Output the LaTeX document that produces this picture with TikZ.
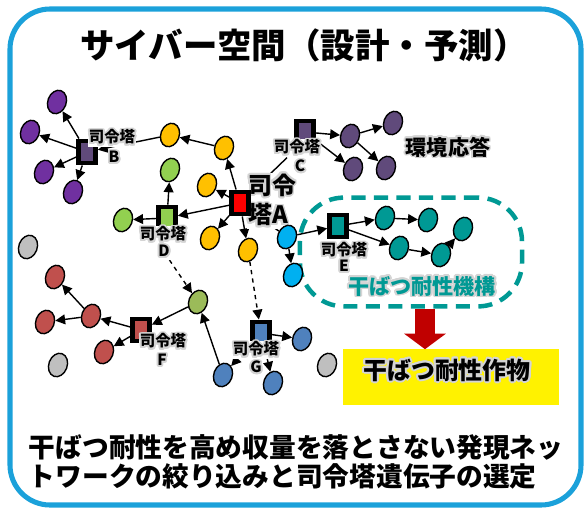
\documentclass[tikz,border=0pt]{standalone}
\usepackage{fontspec}
\usepackage{contour}
\setmainfont{Noto Sans CJK JP}
\usetikzlibrary{shapes.geometric,arrows.meta,calc}

\definecolor{frameblue}{RGB}{27,161,218}
\definecolor{violetB}{RGB}{112,48,160}
\definecolor{violetC}{RGB}{96,74,123}
\definecolor{gold}{RGB}{255,192,0}
\definecolor{lime}{RGB}{146,208,80}
\definecolor{olive}{RGB}{155,187,89}
\definecolor{brick}{RGB}{192,80,77}
\definecolor{steel}{RGB}{79,129,189}
\definecolor{sky}{RGB}{0,176,240}
\definecolor{tealE}{RGB}{0,153,148}
\definecolor{ash}{RGB}{191,191,191}
\definecolor{darkred}{RGB}{192,0,0}
\definecolor{haze}{RGB}{212,212,212}

\contourlength{1.3pt}
\contournumber{20}
\newcommand{\glow}[1]{\contour{haze}{#1}}

\pgfdeclarelayer{back}
\pgfsetlayers{back,main}

\tikzset{
  leaf/.style={ellipse,draw,line width=1pt,minimum width=.46cm,minimum height=.6cm,inner sep=0pt,rotate=-20},
  hub/.style={rectangle,draw,line width=3.5pt,minimum width=.42cm,minimum height=.55cm,inner sep=0pt},
  tag/.style={fill=white,inner sep=.8pt,font=\bfseries\fontsize{11}{13}\selectfont},
  link/.style={draw,line width=1pt,-{Triangle[length=7pt,width=7pt]}},
}

\begin{document}
\begin{tikzpicture}[x=.025cm,y=-.025cm]
  \useasboundingbox (0,0) rectangle (585,513);
  \draw[frameblue,line width=3.6pt,rounded corners=1cm] (10,9) rectangle (581,505);
  \node[font=\bfseries\fontsize{24.5}{28}\selectfont] (title) at (304,45) {サイバー空間（設計・予測）};

  \node[draw=tealE,line width=3.2pt,dash pattern=on 10pt off 6pt,rounded corners=1.1cm,
        minimum width=5.55cm,minimum height=2.72cm] (mech) at (411,252) {};

  \node[tag,align=left,font=\bfseries\fontsize{17}{21}\selectfont] (Al) at (272,201) {\glow{司令}\\\glow{塔A}};

  \begin{scope}[every node/.style={leaf,fill=violetB}]
    \node (p1) at (57,102)  {};
    \node (p2) at (30,132)  {};
    \node (p3) at (44,172)  {};
    \node (p4) at (73,192)  {};
  \end{scope}
  \begin{scope}[every node/.style={leaf,fill=gold}]
    \node (y1) at (170,135) {};
    \node (y2) at (224,148) {};
    \node (y3) at (207,185) {};
    \node (y4) at (210,238) {};
    \node (y5) at (248,250) {};
  \end{scope}
  \begin{scope}[every node/.style={leaf,fill=lime}]
    \node (g1) at (170,170) {};
    \node (g2) at (123,220) {};
    \node[fill=olive] (g3) at (198,302) {};
  \end{scope}
  \begin{scope}[every node/.style={leaf,fill=brick}]
    \node (r1) at (91,316)  {};
    \node (r2) at (55,277)  {};
    \node (r3) at (45,322)  {};
    \node (r4) at (104,352) {};
  \end{scope}
  \begin{scope}[every node/.style={leaf,fill=steel}]
    \node (b1) at (223,375) {};
    \node (b2) at (302,339) {};
    \node (b3) at (273,383) {};
  \end{scope}
  \begin{scope}[every node/.style={leaf,fill=sky}]
    \node (c1) at (287,237) {};
    \node (c2) at (293,275) {};
  \end{scope}
  \begin{scope}[every node/.style={leaf,fill=tealE}]
    \node (t1) at (385,218) {};
    \node (t2) at (428,220) {};
    \node (t3) at (463,229) {};
    \node (t4) at (399,248) {};
    \node (t5) at (441,255) {};
  \end{scope}
  \begin{scope}[every node/.style={leaf,fill=violetC}]
    \node (v1) at (350,136) {};
    \node (v2) at (393,123) {};
    \node (v3) at (353,169) {};
    \node (v4) at (386,168) {};
  \end{scope}
  \begin{scope}[every node/.style={leaf,fill=ash}]
    \node (a1) at (28,247)  {};
    \node (a2) at (58,365)  {};
    \node (a3) at (327,365) {};
  \end{scope}

  \node[hub,fill=red]     (A) at (240,203) {};
  \node[hub,fill=violetC] (B) at (87,152)  {};
  \node[hub,fill=violetC] (C) at (305,132) {};
  \node[hub,fill=lime]    (D) at (167,218) {};
  \node[hub,fill=tealE]   (E) at (338,226) {};
  \node[hub,fill=brick]   (F) at (141,330) {};
  \node[hub,fill=steel]   (G) at (261,333) {};

  \begin{scope}[every node/.style={tag}]
    \node (Bt) at (112,138) {\glow{司令塔}};
    \node (Bn) at (114,158) {\glow{B}};
    \node (Ct) at (297,148) {\glow{司令塔}};
    \node (Cn) at (300,167) {\glow{C}};
    \node (Dt) at (163,235) {\glow{司令塔}};
    \node (Dn) at (164,252) {\glow{D}};
    \node (Et) at (344,251) {\glow{司令塔}};
    \node (En) at (344,267) {\glow{E}};
    \node (Ft) at (163,342) {\glow{司令塔}};
    \node (Fn) at (162,361) {\glow{F}};
    \node (Gt) at (256,350) {\glow{司令塔}};
    \node (Gn) at (256,368) {\glow{G}};
  \end{scope}

  \begin{pgfonlayer}{back}
  \begin{scope}[every edge/.style={link}]
    \path (A)  edge (y2);
    \path (A)  edge (y3);
    \path (A)  edge (y4);
    \path (A)  edge (y5);
    \path (A)  edge (D);
    \path (A)  edge[-] (Ct);
    \path (A)  edge[-] (c1);
    \path (y2) edge (y1);
    \path (y1) edge (B);
    \path (B)  edge (p1);
    \path (B)  edge (p2);
    \path (B)  edge (p3);
    \path (B)  edge (p4);
    \path (D)  edge (g1);
    \path (D)  edge (g2);
    \path (Dn) edge[dashed] (g3);
    \path (y5) edge[dashed] (G);
    \path (g3) edge (F);
    \path (F)  edge (r1);
    \path (r1) edge (r2);
    \path (r1) edge (r3);
    \path (F)  edge (r4);
    \path (b1) edge (g3);
    \path (G)  edge (b1);
    \path (G)  edge (b2);
    \path (G)  edge (b3);
    \path (c1) edge (c2);
    \path (c1) edge (E);
    \path (E)  edge (t1);
    \path (t1) edge (t2);
    \path (E)  edge (t4);
    \path (t4) edge (t5);
    \path (t5) edge (t3);
    \path (C)  edge (v1);
    \path (v1) edge (v2);
    \path (C)  edge (v3);
    \path (v1) edge (v4);
  \end{scope}
  \end{pgfonlayer}

  \node[font=\bfseries\fontsize{15}{18}\selectfont] (env) at (448,148) {\glow{環境応答}};
  \node[text=tealE,font=\bfseries\fontsize{15}{18}\selectfont] (mechtxt) at (422,287) {\glow{干ばつ耐性機構}};

  \node[fill=yellow,minimum width=5.4cm,minimum height=1.375cm] (crop) at (451,377) {};
  \node[font=\bfseries\fontsize{17}{20}\selectfont] (croptxt) at (447,371) {\glow{干ばつ耐性作物}};
  \draw[darkred,line width=14pt,-{Triangle[length=11pt,width=29pt]}] ($(mech.south)+(14,0)$) -- ($(crop.north)+(-26,0)$);

  \node[anchor=west,align=left,font=\bfseries\fontsize{19}{21}\selectfont] (goal) at (24,462)
    {干ばつ耐性を高め収量を落とさない発現ネッ\\トワークの絞り込みと司令塔遺伝子の選定};
\end{tikzpicture}
\end{document}
